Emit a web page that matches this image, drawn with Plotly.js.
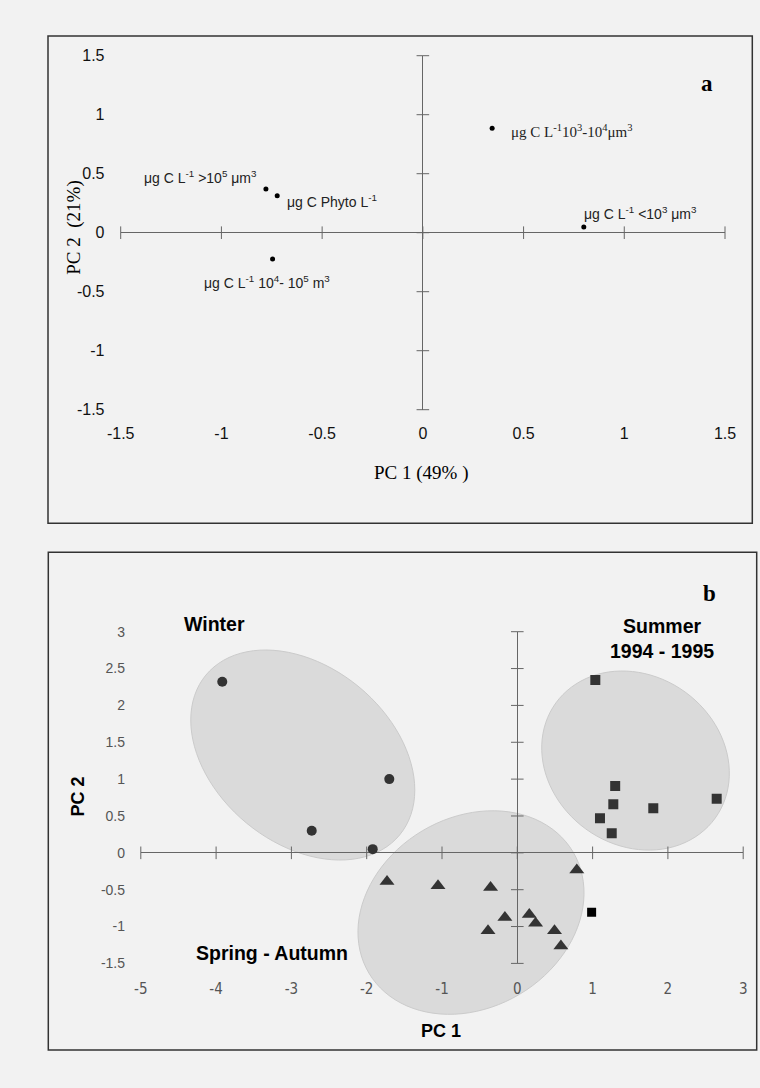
<!DOCTYPE html>
<html><head><meta charset="utf-8">
<script src="https://cdn.plot.ly/plotly-3.0.1.min.js"></script>
<style>html,body{margin:0;padding:0;background:#f2f2f2;}#chart{width:760px;height:1088px;}</style>
</head><body><div id="chart"></div>
<script>
// ---------- Panel a: variable loadings ----------
const loadingLabels = [
  'μg C L<sup>-1</sup> &gt;10<sup>5</sup> μm<sup>3</sup>',
  'μg C Phyto L<sup>-1</sup>',
  'μg C L<sup>-1</sup> 10<sup>4</sup>- 10<sup>5</sup> m<sup>3</sup>',
  'μg C L<sup>-1</sup>10<sup>3</sup>-10<sup>4</sup>μm<sup>3</sup>',
  'μg C L<sup>-1</sup> &lt;10<sup>3</sup> μm<sup>3</sup>'
];
const loadingPC1 = [-0.779, -0.723, -0.746, 0.344, 0.799];
const loadingPC2 = [0.370, 0.314, -0.223, 0.885, 0.048];
const ticksA = [-1.5, -1, -0.5, 0, 0.5, 1, 1.5];
const tickTextA = ['-1.5', '-1', '-0.5', '0', '0.5', '1', '1.5'];

// ---------- Panel b: sample scores ----------
const winterPC1 = [-3.918, -1.70, -2.73, -1.92];
const winterPC2 = [2.32, 1.00, 0.30, 0.05];
const summerPC1 = [1.036, 1.30, 1.275, 1.806, 2.648, 1.098, 1.254];
const summerPC2 = [2.345, 0.906, 0.658, 0.604, 0.734, 0.468, 0.265];
const outlierPC1 = [0.987];
const outlierPC2 = [-0.807];
const springPC1 = [-1.73, -1.053, -0.355, 0.79, -0.165, 0.159, 0.243, -0.389, 0.494, 0.579];
const springPC2 = [-0.39, -0.446, -0.47, -0.233, -0.876, -0.835, -0.957, -1.057, -1.057, -1.265];
const xTicksB = [-5, -4, -3, -2, -1, 0, 1, 2, 3];
const xTickTextB = ['-5', '-4', '-3', '-2', '-1', '0', '1', '2', '3'];
const yTicksB = [-1.5, -1, -0.5, 0, 0.5, 1, 1.5, 2, 2.5, 3];
const yTickTextB = ['-1.5', '-1', '-0.5', '0', '0.5', '1', '1.5', '2', '2.5', '3'];
const groupNames = ['Winter', 'Summer<br>1994 - 1995', 'Spring - Autumn'];

// ---------- geometry ----------
const W = 760, H = 1088;
const px = v => v / W, py = v => (H - v) / H;
const domA = {x: [px(120.7), px(725)], y: [py(409.7), py(55.7)]};
const domB = {x: [px(140.8), px(743.2)], y: [py(963.4), py(631.7)]};
const rangeA = {x: [-1.5, 1.5], y: [-1.5, 1.5]};
const rangeB = {x: [-5, 3], y: [-1.5, 3]};
// data (panel b) -> paper fraction
const bx2p = v => domB.x[0] + (v - rangeB.x[0]) / (rangeB.x[1] - rangeB.x[0]) * (domB.x[1] - domB.x[0]);
const by2p = v => domB.y[0] + (v - rangeB.y[0]) / (rangeB.y[1] - rangeB.y[0]) * (domB.y[1] - domB.y[0]);

const SANS = 'Liberation Sans, Arial, sans-serif';
const SERIF = 'Liberation Serif, Times New Roman, serif';
const NARROW = 'Liberation Sans Narrow, Arial Narrow, DejaVu Sans Condensed, sans-serif';
const AXC = '#666';
const PT = '#333';

function tickTrace(vals, onX, xa, ya) {
  return {
    x: onX ? vals : vals.map(() => 0),
    y: onX ? vals.map(() => 0) : vals,
    xaxis: xa, yaxis: ya, type: 'scatter', mode: 'markers',
    marker: {symbol: onX ? 'line-ns-open' : 'line-ew-open', size: 9, color: AXC, line: {color: AXC, width: 1}},
    cliponaxis: false, hoverinfo: 'skip', showlegend: false
  };
}

// ellipse drawn in paper coords (so it is not clipped): centre in data units, semi-axes in px, tilt in degrees
function ellipsePath(cx, cy, a, b, thetaDeg) {
  const t = thetaDeg * Math.PI / 180, n = 96;
  const x0 = bx2p(cx) * W, y0 = by2p(cy) * H;
  let d = '';
  for (let k = 0; k <= n; k++) {
    const f = 2 * Math.PI * k / n;
    const dx = a * Math.cos(f) * Math.cos(t) - b * Math.sin(f) * Math.sin(t);
    const dy = a * Math.cos(f) * Math.sin(t) + b * Math.sin(f) * Math.cos(t);
    d += (k ? ' L ' : 'M ') + ((x0 + dx) / W).toFixed(5) + ',' + ((y0 - dy) / H).toFixed(5);
  }
  return d + ' Z';
}
const ellipses = [
  {cx: -2.849, cy: 1.327, a: 125.6, b: 88.3, t: 39.5},
  {cx: 1.570, cy: 1.252, a: 98.3, b: 84.6, t: 35.9},
  {cx: -0.615, cy: -0.810, a: 118.7, b: 95.1, t: -30.7}
];

const traces = [
  tickTrace(ticksA, true, 'x', 'y'),
  tickTrace(ticksA, false, 'x', 'y'),
  {x: loadingPC1, y: loadingPC2, xaxis: 'x', yaxis: 'y', type: 'scatter', mode: 'markers',
   marker: {color: '#000', size: 5}, hoverinfo: 'skip', showlegend: false},
  tickTrace(xTicksB, true, 'x2', 'y2'),
  tickTrace(yTicksB, false, 'x2', 'y2'),
  {x: winterPC1, y: winterPC2, xaxis: 'x2', yaxis: 'y2', type: 'scatter', mode: 'markers',
   marker: {symbol: 'circle', color: PT, size: 10}, showlegend: false},
  {x: summerPC1, y: summerPC2, xaxis: 'x2', yaxis: 'y2', type: 'scatter', mode: 'markers',
   marker: {symbol: 'square', color: PT, size: 10}, showlegend: false},
  {x: outlierPC1, y: outlierPC2, xaxis: 'x2', yaxis: 'y2', type: 'scatter', mode: 'markers',
   marker: {symbol: 'square', color: '#000', size: 9}, showlegend: false},
  {x: springPC1, y: springPC2, xaxis: 'x2', yaxis: 'y2', type: 'scatter', mode: 'markers',
   marker: {symbol: 'triangle-up', color: PT, size: 13}, showlegend: false}
];

function axis(dom, rng, vals, txt, anchor, len, font) {
  return {domain: dom, range: rng, anchor: anchor, showgrid: false, showline: false,
    zeroline: true, zerolinecolor: AXC, zerolinewidth: 1.2,
    tickmode: 'array', tickvals: vals, ticktext: txt, ticks: 'outside', ticklen: len,
    tickcolor: 'rgba(0,0,0,0)', tickfont: font, fixedrange: true};
}

const fontA = {family: SANS, size: 16, color: '#111'};
const fontBy = {family: SANS, size: 14, color: '#555'};
const fontBx = {family: NARROW, size: 15, color: '#555'};

// label offsets (px) of panel a labels from their points
const labelOffsets = [[-65, -12], [55, 5], [-6, 23], [79, 3], [57, -14]];
const labelFonts = [SANS, SANS, SANS, SERIF, SANS];
const labelSizes = [14, 14, 14, 15, 14];

const annotations = loadingLabels.map((t, i) => ({
  text: t, x: loadingPC1[i], y: loadingPC2[i], xref: 'x', yref: 'y', showarrow: false,
  xanchor: 'center', yanchor: 'middle', xshift: labelOffsets[i][0], yshift: -labelOffsets[i][1],
  font: {family: labelFonts[i], size: labelSizes[i], color: '#222'}
}));
function note(text, x, y, family, size, angle) {
  return {text: text, x: px(x), y: py(y), xref: 'paper', yref: 'paper', showarrow: false,
    xanchor: 'center', yanchor: 'middle', textangle: angle || 0,
    font: {family: family, size: size, color: '#000'}};
}
annotations.push(
  note('<b>a</b>', 707, 83, SERIF, 23),
  note('PC 1 (49% )', 421, 473, SERIF, 19),
  note('PC 2  (21%)', 73.7, 228, SERIF, 19, -90),
  note('<b>b</b>', 709, 593, SERIF, 23),
  note('<b>PC 1</b>', 441, 1030.7, SANS, 18),
  note('<b>PC 2</b>', 77.5, 797, SANS, 18, -90),
  note('<b>' + groupNames[0] + '</b>', 214, 624, SANS, 19.5),
  note('<b>' + groupNames[1] + '</b>', 662, 638, SANS, 19.5),
  note('<b>' + groupNames[2] + '</b>', 271.5, 953.3, SANS, 19.5)
);

const shapes = ellipses.map(e => ({
  type: 'path', xref: 'paper', yref: 'paper', layer: 'below', path: ellipsePath(e.cx, e.cy, e.a, e.b, e.t),
  fillcolor: '#dadada', line: {color: '#cbcbcb', width: 1}
}));
shapes.push(
  {type: 'rect', xref: 'paper', yref: 'paper', x0: px(48), x1: px(752.3), y0: py(523.3), y1: py(36),
   line: {color: '#333', width: 1.5}, fillcolor: 'rgba(0,0,0,0)', layer: 'below'},
  {type: 'rect', xref: 'paper', yref: 'paper', x0: px(48.3), x1: px(756.7), y0: py(1050), y1: py(552.3),
   line: {color: '#333', width: 1.5}, fillcolor: 'rgba(0,0,0,0)', layer: 'below'}
);

const layout = {
  width: W, height: H, margin: {l: 0, r: 0, t: 0, b: 0},
  paper_bgcolor: '#f2f2f2', plot_bgcolor: 'rgba(0,0,0,0)', showlegend: false,
  xaxis: axis(domA.x, rangeA.x, ticksA, tickTextA, 'y', 9, fontA),
  yaxis: axis(domA.y, rangeA.y, ticksA, tickTextA, 'x', 12, fontA),
  xaxis2: axis(domB.x, rangeB.x, xTicksB, xTickTextB, 'y2', 12, fontBx),
  yaxis2: axis(domB.y, rangeB.y, yTicksB, yTickTextB, 'x2', 12, fontBy),
  annotations: annotations, shapes: shapes
};

Plotly.newPlot('chart', traces, layout, {staticPlot: true, displayModeBar: false});
</script></body></html>
